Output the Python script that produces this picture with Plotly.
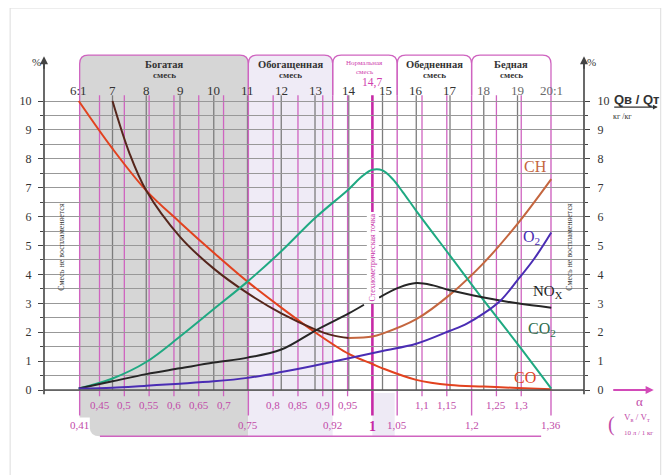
import plotly.graph_objects as go

# ---------------- data ----------------
afr_ticks = [6, 7, 8, 9, 10, 11, 12, 13, 14, 15, 16, 17, 18, 19, 20]
afr_labels = ["6:1", "7", "8", "9", "10", "11", "12", "13", "14", "15", "16", "17", "18", "19", "20:1"]
stoich_afr = 14.7
lambda_row1 = [0.45, 0.5, 0.55, 0.6, 0.65, 0.7, 0.8, 0.85, 0.9, 0.95, 1.1, 1.15, 1.25, 1.3]
lambda_row2 = [0.41, 0.75, 0.92, 1.0, 1.05, 1.2, 1.36]
zone_names = ["Богатая", "Обогащенная", "Нормальная", "Обедненная", "Бедная"]
zone_bounds = [(0.41, 0.75), (0.75, 0.92), (0.92, 1.05), (1.05, 1.2), (1.2, 1.36)]
y_ticks = [0, 1, 2, 3, 4, 5, 6, 7, 8, 9, 10]
y_minor = [0.5, 1.5, 2.5, 3.5, 4.5, 5.5, 6.5, 7.5, 8.5, 9.5]

co_afr = [6, 7, 8, 9, 10, 11, 12, 13, 14, 14.7, 15, 16, 17, 18, 19, 20]
co_val = [10, 8.35, 6.9, 5.8, 4.75, 3.75, 2.85, 2.0, 1.25, 0.9, 0.75, 0.35, 0.17, 0.12, 0.07, 0.03]

ch_afr = [7, 7.5, 8, 9, 10, 11, 12, 13, 13.5, 14, 14.7, 15, 16, 17, 18, 19, 20]
ch_val = [10, 8.2, 6.9, 5.3, 4.2, 3.35, 2.65, 2.1, 1.9, 1.8, 1.85, 1.95, 2.45, 3.3, 4.4, 5.75, 7.3]

co2_afr = [6, 7, 8, 9, 10, 11, 12, 13, 14, 14.4, 14.7, 15, 15.3, 15.6, 16, 17, 18, 19, 20]
co2_val = [0.05, 0.4, 0.97, 1.85, 2.8, 3.75, 4.8, 5.95, 6.95, 7.4, 7.62, 7.6, 7.3, 6.85, 6.2, 4.65, 3.1, 1.6, 0.05]

nox_afr = [6, 7, 8, 9, 10, 11, 12, 13, 14, 14.45, None, 14.9, 15.5, 16, 16.5, 17, 18, 19, 20]
nox_val = [0.05, 0.3, 0.55, 0.75, 0.95, 1.12, 1.4, 2.05, 2.65, 2.95, None, 3.2, 3.55, 3.7, 3.62, 3.45, 3.2, 3.0, 2.85]

o2_afr = [6, 7, 8, 9, 10, 11, 12, 13, 14, 15, 16, 17, 17.5, 18, 18.5, 19, 19.5, 20]
o2_val = [0.05, 0.08, 0.15, 0.22, 0.3, 0.42, 0.62, 0.85, 1.1, 1.35, 1.6, 2.05, 2.3, 2.65, 3.1, 3.8, 4.55, 5.45]

# ---------------- style ----------------
SERIF = "Liberation Serif"
PINK = "#c14aa8"
PINK_LINE = "#cf64c0"
GRAY_LINE = "#7c7c7c"
GRID = "#989898"
X_RANGE = [4.97, 20.97]
Y_RANGE = [-1.626, 11.765]
TAB_TOP = 11.59
TAB_BASE = 10.2
BAND_BOTTOM = -1.6
PLOT_LEFT_PX = 42   # page pixel of the plot's left edge (page body has an 8px margin)
PLOT_W_PX = 542


def px2paper(px):
    return (px - PLOT_LEFT_PX) / PLOT_W_PX


fig = go.Figure()

ch_split = ch_afr.index(14)
fig.add_trace(go.Scatter(x=co_afr, y=co_val, mode="lines", line=dict(color="#e2421f", width=2, shape="spline"), hoverinfo="skip"))
fig.add_trace(go.Scatter(x=ch_afr[:ch_split + 1], y=ch_val[:ch_split + 1], mode="lines",
                         line=dict(color="#55261c", width=2, shape="spline"), hoverinfo="skip"))
fig.add_trace(go.Scatter(x=ch_afr[ch_split:], y=ch_val[ch_split:], mode="lines",
                         line=dict(color="#c4663f", width=2, shape="spline"), hoverinfo="skip"))
fig.add_trace(go.Scatter(x=co2_afr, y=co2_val, mode="lines", line=dict(color="#1fa982", width=2, shape="spline"), hoverinfo="skip"))
fig.add_trace(go.Scatter(x=nox_afr, y=nox_val, mode="lines", connectgaps=False,
                         line=dict(color="#262626", width=2, shape="spline"), hoverinfo="skip"))
fig.add_trace(go.Scatter(x=o2_afr, y=o2_val, mode="lines", yaxis="y2",
                         line=dict(color="#4a2db4", width=2, shape="spline"), hoverinfo="skip"))

shapes = []
annotations = []


def ann(text, x, y, size=12, color="#333", xref="x", yref="y", family=SERIF, **kw):
    d = dict(text=text, x=x, y=y, xref=xref, yref=yref, showarrow=False,
             font=dict(family=family, size=size, color=color))
    d.update(kw)
    return d


def lam(v):
    return v * stoich_afr


# zone fills
xa, xb = lam(zone_bounds[0][0]), lam(zone_bounds[0][1])
shapes.append(dict(type="path", layer="below", line=dict(width=0), fillcolor="#d6d6d6",
                   path=f"M {xa},{TAB_TOP-0.3} Q {xa},{TAB_TOP} {xa+0.25},{TAB_TOP} L {xb-0.25},{TAB_TOP} "
                        f"Q {xb},{TAB_TOP} {xb},{TAB_TOP-0.3} L {xb},{BAND_BOTTOM} L {xa+0.6},{BAND_BOTTOM} "
                        f"Q {xa+0.3},{BAND_BOTTOM} {xa+0.3},{BAND_BOTTOM+0.3} L {xa+0.3},-0.95 L {xa},-0.95 Z"))
xa, xb = lam(zone_bounds[1][0]), lam(zone_bounds[1][1])
shapes.append(dict(type="path", layer="below", line=dict(width=0), fillcolor="#efebf6",
                   path=f"M {xa},{TAB_TOP-0.3} Q {xa},{TAB_TOP} {xa+0.25},{TAB_TOP} L {xb-0.25},{TAB_TOP} "
                        f"Q {xb},{TAB_TOP} {xb},{TAB_TOP-0.3} L {xb},{BAND_BOTTOM} L {xa},{BAND_BOTTOM} Z"))
shapes.append(dict(type="rect", layer="below", line=dict(width=0), fillcolor="#eeeaf5",
                   x0=lam(1.0), x1=lam(1.045), y0=BAND_BOTTOM, y1=-0.1, xref="x", yref="y"))

# tab outlines
for (a, b) in zone_bounds:
    xa, xb = lam(a), lam(b)
    shapes.append(dict(type="path", layer="below", line=dict(color=PINK_LINE, width=1.3),
                       path=f"M {xa},{TAB_BASE} L {xa},{TAB_TOP-0.3} Q {xa},{TAB_TOP} {xa+0.25},{TAB_TOP} "
                            f"L {xb-0.25},{TAB_TOP} Q {xb},{TAB_TOP} {xb},{TAB_TOP-0.3} L {xb},{TAB_BASE}"))

# gray vertical lines at AFR integers
for t in afr_ticks[1:-1]:
    shapes.append(dict(type="line", layer="below", x0=t, x1=t, y0=0, y1=TAB_BASE,
                       line=dict(color=GRAY_LINE, width=1.3)))

# pink vertical lines at lambda values
for v in lambda_row1:
    shapes.append(dict(type="line", layer="below", x0=lam(v), x1=lam(v), y0=-0.22, y1=TAB_BASE,
                       line=dict(color=PINK_LINE, width=1.3)))
for v in lambda_row2:
    if v == 1.0:
        continue
    shapes.append(dict(type="line", layer="below", x0=lam(v), x1=lam(v), y0=-0.88, y1=TAB_BASE,
                       line=dict(color=PINK_LINE, width=1.4)))
shapes.append(dict(type="line", layer="below", x0=stoich_afr, x1=stoich_afr, y0=-0.88, y1=TAB_BASE,
                   line=dict(color="#c62aa6", width=2.6)))
shapes.append(dict(type="line", layer="below", x0=lam(0.41) + 0.6, x1=19.7, y0=BAND_BOTTOM, y1=BAND_BOTTOM,
                   line=dict(color=PINK_LINE, width=1.4)))

# axis lines (zero line + two vertical axes)
shapes.append(dict(type="line", xref="paper", yref="y", x0=0, x1=1, y0=0, y1=0, line=dict(color="#555", width=1.6)))
for px in (0, 1):
    shapes.append(dict(type="line", xref="paper", yref="y", x0=px, x1=px, y0=-0.15, y1=11.45,
                       line=dict(color="#444", width=1.6)))
    annotations.append(dict(x=px, y=11.55, xref="paper", yref="y", ax=0, ay=14, text="", showarrow=True,
                            arrowhead=2, arrowsize=1, arrowwidth=1.6, arrowcolor="#444"))

# outer frame
shapes.append(dict(type="rect", xref="paper", yref="paper", x0=px2paper(8), x1=px2paper(661),
                   y0=-0.2, y1=(437 - 8) / 387, line=dict(color="#dcdcdc", width=1)))

# top AFR labels
for t, lab in zip(afr_ticks, afr_labels):
    col = "#6a6a6a" if t >= 18 else "#333"
    shift = 3 if t == 15 else 0
    annotations.append(ann(lab, t, 10.38, size=13, color=col, xshift=shift))
annotations.append(ann("14,7", stoich_afr, 10.64, size=11.5, color="#cf3fae"))

# zone titles
for name, (a, b) in zip(zone_names, zone_bounds):
    xc = (lam(a) + lam(b)) / 2
    if name == "Нормальная":
        annotations.append(ann(name, xc, 11.3, size=7, color="#cf3fae"))
        annotations.append(ann("смесь", xc, 11.0, size=7, color="#cf3fae"))
    else:
        annotations.append(ann(f"<b>{name}</b>", xc, 11.25, size=10.5, color="#333"))
        annotations.append(ann("<b>смесь</b>", xc, 10.9, size=9, color="#333"))

# lambda labels
for v in lambda_row1:
    annotations.append(ann(f"{v:g}".replace(".", ","), lam(v), -0.52, size=11, color=PINK))
for v in lambda_row2:
    if v == 1.0:
        annotations.append(ann("<b>1</b>", lam(v), -1.25, size=14, color="#c62aa6"))
    else:
        annotations.append(ann(f"{v:g}".replace(".", ","), lam(v), -1.21, size=11, color=PINK))

# rotated texts
annotations.append(ann("Смесь не воспламеняется", 5.5, 4.95, size=8, color="#333", textangle=-90))
annotations.append(ann("Смесь не воспламеняется", 20.55, 4.95, size=8, color="#333", textangle=-90))
annotations.append(ann("Стехиометрическая точка", stoich_afr, 4.6, size=8, color="#c62aa6", textangle=-90,
                       bgcolor="white", borderpad=1))

# curve labels
annotations.append(ann("CH", 19.52, 7.72, size=16, color="#c4663f"))
annotations.append(ann("O<sub>2</sub>", 19.42, 5.26, size=16, color="#4a2db4"))
annotations.append(ann("NO<sub>X</sub>", 19.9, 3.39, size=15, color="#1e1e1e"))
annotations.append(ann("CO<sub>2</sub>", 19.72, 2.08, size=16, color="#2d6e4e"))
annotations.append(ann("CO", 19.23, 0.45, size=16, color="#e2421f"))

# % signs and outer labels
annotations.append(ann("%", px2paper(28), 11.35, size=11, xref="paper"))
annotations.append(ann("%", px2paper(598), 11.35, size=11, xref="paper"))
annotations.append(ann("<b>Qв / Qт</b>", px2paper(612), 10.05, size=13, color="#333", xref="paper",
                       family="Liberation Sans", xanchor="left"))
annotations.append(dict(x=px2paper(658), y=9.79, xref="paper", yref="y", ax=-45, ay=0, text="",
                        showarrow=True, arrowhead=2, arrowsize=0.8, arrowwidth=1.2, arrowcolor="#333"))
annotations.append(ann("кг /кг", px2paper(634), 9.45, size=8, xref="paper"))
annotations.append(dict(x=px2paper(654), y=0, xref="paper", yref="y", ax=-42, ay=0, text="",
                        showarrow=True, arrowhead=2, arrowsize=0.9, arrowwidth=1.8, arrowcolor="#d24ab8"))
annotations.append(ann("α", px2paper(645), -0.4, size=13, color=PINK, xref="paper"))
annotations.append(ann("(", px2paper(617), -1.2, size=20, color=PINK, xref="paper"))
annotations.append(ann("V<sub>в</sub> / V<sub>т</sub>", px2paper(622), -0.95, size=9, color=PINK,
                       xref="paper", xanchor="left"))
annotations.append(ann("10 л / 1 кг", px2paper(622), -1.5, size=7, color=PINK, xref="paper", xanchor="left"))

axis_common = dict(range=Y_RANGE, tickmode="array", tickvals=y_ticks, ticktext=[str(v) for v in y_ticks],
                   ticks="outside", ticklen=5, tickwidth=1.4, tickcolor="#444",
                   tickfont=dict(family=SERIF, size=12, color="#333"), zeroline=False, showline=False,
                   fixedrange=True)

# the page body adds an 8px margin, so the figure is 8px smaller and left/top margins are reduced by 8
fig.update_layout(
    width=662, height=467,
    margin=dict(l=34, r=86, t=42, b=38, pad=0),
    paper_bgcolor="white", plot_bgcolor="white",
    showlegend=False,
    xaxis=dict(range=X_RANGE, showgrid=False, zeroline=False, showticklabels=False, ticks="",
               showline=False, fixedrange=True),
    yaxis=dict(**axis_common, showgrid=True, gridcolor=GRID, gridwidth=1.2, ticklabelstandoff=4,
               minor=dict(tickvals=y_minor, ticks="outside", ticklen=3, tickcolor="#444",
                          showgrid=True, gridcolor=GRID, gridwidth=1.1)),
    yaxis2=dict(**axis_common, overlaying="y", side="right", anchor="x", showgrid=False, ticklabelstandoff=5,
                minor=dict(tickvals=y_minor, ticks="outside", ticklen=3, tickcolor="#444", showgrid=False)),
    shapes=shapes,
    annotations=annotations,
)

fig.write_html("out.html")
